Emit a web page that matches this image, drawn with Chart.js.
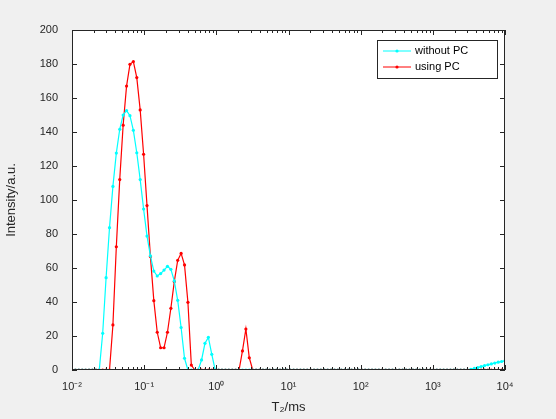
<!DOCTYPE html>
<html><head><meta charset="utf-8">
<script src="https://cdn.jsdelivr.net/npm/chart.js@4/dist/chart.umd.min.js"></script>
<style>html,body{margin:0;background:#f0f0f0}#w{width:556px;height:419px}</style></head>
<body><div id="w"><canvas id="c"></canvas></div>
<script>
const N = 128, logMin = -2, logMax = 4;
const t2 = Array.from({length:N},(_,i)=>Math.pow(10, logMin + (logMax-logMin)*i/(N-1)));
const withoutPC = new Array(N).fill(0);
const usingPC = new Array(N).fill(0);
const cyanNZ = {9:21.6,10:54.3,11:83.7,12:108,13:127.6,14:141.6,15:150,16:152.6,17:149.6,18:141,19:127.8,20:112,21:94.7,22:78.8,23:67.2,24:58.2,25:55.3,26:56.7,27:58.8,28:61,29:59.2,30:52.4,31:41,32:25,33:6.9,38:5.9,39:15.7,40:19.2,41:9.2,
 117:0.4,118:0.9,119:1.4,120:2,121:2.6,122:3.1,123:3.6,124:4.1,125:4.6,126:5,127:5.4};
const redNZ = {12:26.5,13:72.5,14:112,15:144,16:167,17:179.8,18:181.4,19:172,20:153,21:126.9,22:96.7,23:66.7,24:40.8,25:22.2,26:13.1,27:13.1,28:22.2,29:36.3,30:52,31:64.5,32:68.6,33:61.8,34:39.8,35:2.9,50:11.2,51:24.1,52:7.2};
for (const k in cyanNZ) withoutPC[k] = cyanNZ[k];
for (const k in redNZ) usingPC[k] = redNZ[k];
const seriesNames = ['without PC','using PC'];
const seriesColors = ['#00ffff','#ff0000'];
const xTickLabels = {'-2':'10⁻²','-1':'10⁻¹','0':'10⁰','1':'10¹','2':'10²','3':'10³','4':'10⁴'};

const box = {id:'box',
 beforeDraw(ch){const a=ch.chartArea,c=ch.ctx;c.save();c.fillStyle='#fff';c.fillRect(a.left,a.top,a.right-a.left,a.bottom-a.top);c.restore();},
 afterDraw(ch){const a=ch.chartArea,c=ch.ctx,x=ch.scales.x,y=ch.scales.y;c.save();c.strokeStyle='#262626';c.lineWidth=1;
  c.strokeRect(a.left+0.5,a.top+0.5,a.right-a.left-1,a.bottom-a.top-1);
  c.beginPath();
  for(let e=-2;e<=4;e++){for(let m=1;m<10;m++){const v=m*Math.pow(10,e);if(v>1e4)break;const px=Math.round(x.getPixelForValue(v))+0.5;const L=m===1?5:3;
   c.moveTo(px,a.bottom);c.lineTo(px,a.bottom-L);c.moveTo(px,a.top);c.lineTo(px,a.top+L);}}
  for(let v=0;v<=200;v+=20){const py=Math.round(y.getPixelForValue(v))+0.5;c.moveTo(a.left,py);c.lineTo(a.left+5,py);c.moveTo(a.right,py);c.lineTo(a.right-5,py);}
  c.stroke();
  // legend
  const lx=377,ly=40,lw=120,lh=38;c.fillStyle='#fff';c.fillRect(lx,ly,lw,lh);c.strokeRect(lx+0.5,ly+0.5,lw,lh);
  c.font='11px "Liberation Sans", Arial';c.textBaseline='middle';
  ch.data.datasets.forEach((d,i)=>{const yy=ly+11+i*16;c.strokeStyle=d.borderColor;c.fillStyle=d.borderColor;c.beginPath();c.moveTo(lx+6,yy);c.lineTo(lx+34,yy);c.stroke();
   c.beginPath();c.arc(lx+20,yy,1.6,0,Math.PI*2);c.fill();c.fillStyle='#000';c.fillText(d.label,lx+38,yy);});
  c.restore();}};

new Chart(document.getElementById('c'),{type:'line',
 data:{datasets:[
  {label:seriesNames[0],data:t2.map((t,i)=>({x:t,y:withoutPC[i]})),borderColor:seriesColors[0],backgroundColor:seriesColors[0],borderWidth:1.2,pointRadius:1.6,pointBorderWidth:0,tension:0},
  {label:seriesNames[1],data:t2.map((t,i)=>({x:t,y:usingPC[i]})),borderColor:seriesColors[1],backgroundColor:seriesColors[1],borderWidth:1.2,pointRadius:1.6,pointBorderWidth:0,tension:0}]},
 options:{animation:false,responsive:true,maintainAspectRatio:false,
  layout:{padding:{top:30,right:51,left:0,bottom:0}},
  plugins:{legend:{display:false},tooltip:{enabled:false}},
  scales:{
   x:{type:'logarithmic',min:0.01,max:10000,afterFit:s=>{s.height=49;},
    afterBuildTicks:s=>{s.ticks=[-2,-1,0,1,2,3,4].map(e=>({value:Math.pow(10,e)}));},
    ticks:{autoSkip:false,maxRotation:0,color:'#262626',font:{size:11,family:'"Liberation Sans", Arial'},padding:2,callback:v=>xTickLabels[String(Math.round(Math.log10(v)))]},
    grid:{display:false},border:{display:false},
    title:{display:true,text:'T₂/ms',color:'#262626',font:{size:13,family:'"Liberation Sans", Arial'},padding:{top:0}}},
   y:{min:0,max:200,afterFit:s=>{s.width=72;},
    ticks:{stepSize:20,color:'#262626',font:{size:11,family:'"Liberation Sans", Arial'},padding:6},
    grid:{display:false},border:{display:false},
    title:{display:true,text:'Intensity/a.u.',color:'#262626',font:{size:13,family:'"Liberation Sans", Arial'},padding:{bottom:4}}}}},
 plugins:[box]});
</script></body></html>
